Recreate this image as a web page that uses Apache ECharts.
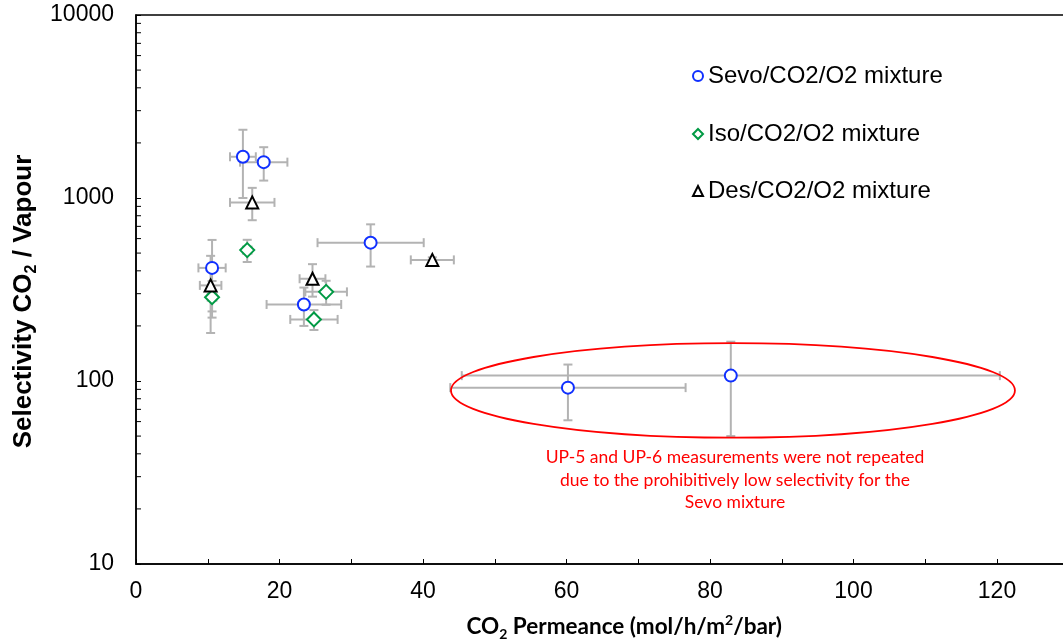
<!DOCTYPE html>
<html>
<head>
<meta charset="utf-8">
<script src="https://cdn.jsdelivr.net/npm/echarts@6/dist/echarts.min.js"></script>
<style>
  html, body { margin: 0; padding: 0; background: #fff; }
  #chart { width: 1063px; height: 640px; }
</style>
</head>
<body>
<div id="chart"></div>
<script>
// Sevoflurane / CO2 / O2 mixture
const sevoPerm    = [14.9, 17.8, 10.6, 23.4, 32.7, 60.2, 82.9];
const sevoSel     = [1680, 1570, 415, 262, 570, 92, 107];
const sevoPermErr = [1.8, 3.3, 1.9, 5.2, 7.4, 16.4, 37.5];
const sevoSelErr  = [680, 325, 175, 62, 148, 31, 57];

// Isoflurane / CO2 / O2 mixture
const isoPerm    = [15.5, 10.6, 26.5, 24.8];
const isoSel     = [519, 287, 307, 217];
const isoPermErr = [0.6, 0.6, 2.9, 3.3];
const isoSelErr  = [72, 65, 46, 27];

// Desflurane / CO2 / O2 mixture
const desPerm    = [16.2, 10.4, 24.6, 41.3];
const desSel     = [946, 333, 362, 459];
const desPermErr = [3.1, 1.5, 1.8, 3.0];
const desSelErr  = [190, 150, 73, 15];

const seriesNames = ['Sevo/CO2/O2 mixture', 'Iso/CO2/O2 mixture', 'Des/CO2/O2 mixture'];

// log-axis minor ticks (2..9 in each decade)
const yMinorTicks = [20, 30, 40, 50, 60, 70, 80, 90,
                     200, 300, 400, 500, 600, 700, 800, 900,
                     2000, 3000, 4000, 5000, 6000, 7000, 8000, 9000];

// region of the low-selectivity runs that gets circled, in data units
const lowSelPerm = [43.9, 122.5];
const lowSelSel  = [49, 161];

const noteLines = [
  'UP-5 and UP-6 measurements were not repeated',
  'due to the prohibitively low selectivity for the',
  'Sevo mixture'
];

const SANS = '"Liberation Sans", Arial, sans-serif';
const HUMAN = 'Lato, "Open Sans", sans-serif';
const ERR_COLOR = '#b3b3b3';

function errorBars(perm, sel, permErr, selErr) {
  return {
    type: 'custom',
    silent: true,
    z: 1,
    clip: false,
    encode: { x: 0, y: 1 },
    data: perm.map((x, i) => [x, sel[i], permErr[i], selErr[i]]),
    renderItem(params, api) {
      const x = api.value(0), y = api.value(1), dx = api.value(2), dy = api.value(3);
      const l = api.coord([x - dx, y]);
      const r = api.coord([x + dx, y]);
      const t = api.coord([x, y + dy]);
      const b = api.coord([x, y - dy]);
      const cap = 4.5;
      const style = { stroke: ERR_COLOR, lineWidth: 2 };
      const line = (x1, y1, x2, y2) => ({ type: 'line', shape: { x1, y1, x2, y2 }, style });
      return {
        type: 'group',
        children: [
          line(l[0], l[1], r[0], r[1]),
          line(l[0], l[1] - cap, l[0], l[1] + cap),
          line(r[0], r[1] - cap, r[0], r[1] + cap),
          line(t[0], t[1], b[0], b[1]),
          line(t[0] - cap, t[1], t[0] + cap, t[1]),
          line(b[0] - cap, b[1], b[0] + cap, b[1])
        ]
      };
    }
  };
}

function points(name, perm, sel, symbol, size, color) {
  return {
    type: 'scatter',
    name,
    z: 3,
    symbol,
    symbolSize: size,
    data: perm.map((x, i) => [x, sel[i]]),
    itemStyle: { color: '#fff', borderColor: color, borderWidth: 2, opacity: 1 }
  };
}

function legendFor(name, top) {
  return {
    data: [name],
    left: 687,
    top,
    itemWidth: 10,
    itemHeight: 10,
    itemGap: 5,
    selectedMode: false,
    textStyle: { fontFamily: SANS, fontSize: 24, color: '#000' }
  };
}

const chart = echarts.init(document.getElementById('chart'), null, { renderer: 'canvas' });

chart.setOption({
  animation: false,
  backgroundColor: '#fff',
  grid: {
    left: 136, top: 15, width: 1004.5, height: 549,
    outerBoundsMode: 'none',
    containLabel: false,
    show: true, borderColor: '#000', borderWidth: 1.5, backgroundColor: 'transparent'
  },
  legend: [
    legendFor(seriesNames[0], 59),
    legendFor(seriesNames[1], 117),
    legendFor(seriesNames[2], 174)
  ],
  xAxis: {
    type: 'value',
    min: 0, max: 140, interval: 20,
    name: '{a|CO}{s|2}{a| Permeance (mol/h/m}{p|2}{a|/bar)}',
    nameLocation: 'middle',
    nameGap: 49,
    nameTextStyle: {
      padding: [0, 28, 0, 0],
      rich: {
        a: { fontFamily: HUMAN, fontWeight: 'bold', fontSize: 22.5, color: '#000', lineHeight: 28 },
        s: { fontFamily: HUMAN, fontWeight: 'bold', fontSize: 14, color: '#000', lineHeight: 28, verticalAlign: 'bottom' },
        p: { fontFamily: HUMAN, fontWeight: 'bold', fontSize: 14, color: '#000', lineHeight: 28, verticalAlign: 'top' }
      }
    },
    axisLine: { show: true, lineStyle: { color: '#000', width: 1.5 } },
    axisTick: { show: true, inside: true, length: 5, lineStyle: { color: '#000', width: 1 } },
    minorTick: { show: true, splitNumber: 2, length: 5, lineStyle: { color: '#000', width: 1 } },
    splitLine: { show: false },
    axisLabel: { fontFamily: SANS, fontSize: 23, color: '#000', margin: 16, formatter: v => String(v) }
  },
  yAxis: {
    type: 'log',
    logBase: 10,
    min: 10, max: 10000,
    name: '{a|Selectivity CO}{s|2}{a| / Vapour}',
    nameLocation: 'middle',
    nameRotate: 90,
    nameGap: 96,
    nameTextStyle: {
      padding: [0, 24, 0, 0],
      rich: {
        a: { fontFamily: SANS, fontWeight: 'bold', fontSize: 26, color: '#000', lineHeight: 30 },
        s: { fontFamily: SANS, fontWeight: 'bold', fontSize: 16, color: '#000', lineHeight: 30, verticalAlign: 'bottom' }
      }
    },
    axisLine: { show: true, lineStyle: { color: '#000', width: 1.5 } },
    axisTick: { show: true, inside: true, length: 5, lineStyle: { color: '#000', width: 1 } },
    splitLine: { show: false },
    axisLabel: { fontFamily: SANS, fontSize: 23, color: '#000', margin: 22, formatter: v => String(v) }
  },
  graphic: [{
    type: 'text',
    x: 735,
    y: 446,
    style: {
      text: noteLines.join('\n'),
      textAlign: 'center',
      fill: '#ff0000',
      font: '17.5px ' + HUMAN,
      lineHeight: 22.7
    }
  }],
  series: [
    // minor ticks on the log axis
    {
      type: 'custom',
      silent: true,
      z: 2,
      clip: false,
      data: yMinorTicks.map(v => [0, v]),
      renderItem(params, api) {
        const c = api.coord([0, api.value(1)]);
        return { type: 'line', shape: { x1: c[0], y1: c[1], x2: c[0] + 5, y2: c[1] },
                 style: { stroke: '#000', lineWidth: 1 } };
      }
    },
    errorBars(sevoPerm, sevoSel, sevoPermErr, sevoSelErr),
    errorBars(isoPerm, isoSel, isoPermErr, isoSelErr),
    errorBars(desPerm, desSel, desPermErr, desSelErr),
    points(seriesNames[0], sevoPerm, sevoSel, 'circle', 12, '#1030ff'),
    points(seriesNames[1], isoPerm, isoSel, 'diamond', 14, '#009a44'),
    points(seriesNames[2], desPerm, desSel, 'triangle', 12, '#000000'),
    // red outline around the two low-selectivity Sevo runs
    {
      type: 'custom',
      silent: true,
      z: 4,
      clip: false,
      data: [[lowSelPerm[0], lowSelPerm[1], lowSelSel[0], lowSelSel[1]]],
      renderItem(params, api) {
        const a = api.coord([api.value(0), api.value(3)]);
        const b = api.coord([api.value(1), api.value(2)]);
        return {
          type: 'ellipse',
          shape: { cx: (a[0] + b[0]) / 2, cy: (a[1] + b[1]) / 2,
                   rx: Math.abs(b[0] - a[0]) / 2, ry: Math.abs(b[1] - a[1]) / 2 },
          style: { fill: null, stroke: '#ff0000', lineWidth: 1.8 }
        };
      }
    }
  ]
});
</script>
</body>
</html>
